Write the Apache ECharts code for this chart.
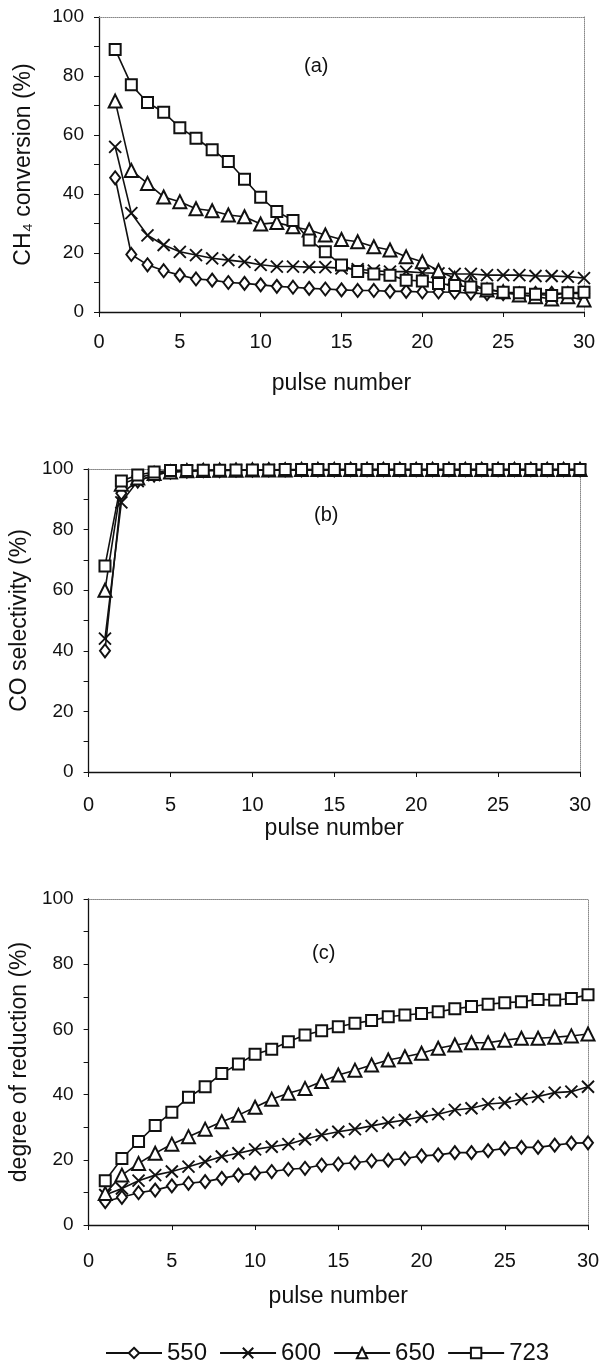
<!DOCTYPE html>
<html>
<head>
<meta charset="utf-8">
<script src="https://cdn.jsdelivr.net/npm/echarts@6/dist/echarts.min.js"></script>
<style>
  html, body { margin: 0; padding: 0; background: #fff; }
  #chart { width: 605px; height: 1365px; }
</style>
</head>
<body>
<div id="chart"></div>
<script>
// pulse numbers (x axis of every panel)
var pulses = [1, 2, 3, 4, 5, 6, 7, 8, 9, 10, 11, 12, 13, 14, 15,
              16, 17, 18, 19, 20, 21, 22, 23, 24, 25, 26, 27, 28, 29, 30];

// (a) CH4 conversion (%)
var conv550 = [45.5, 19.5, 16, 14, 12.5, 11.2, 10.8, 10, 9.7, 9.2, 8.7, 8.4, 8, 7.8, 7.5,
               7.3, 7.3, 7, 7, 6.8, 6.8, 6.7, 6.4, 6.2, 6.2, 6.2, 6.3, 6.3, 6.3, 6.3];
var conv600 = [56, 33.5, 26, 22.7, 20.4, 19.3, 18.2, 17.6, 17, 16, 15.4, 15.4, 15.2, 15.2, 14.8,
               14.5, 14, 13.7, 13.7, 13.3, 13.1, 12.9, 12.9, 12.5, 12.5, 12.5, 12.2, 12.2, 12, 11.5];
var conv650 = [71.5, 48, 43.6, 39, 37.4, 35, 34.3, 32.9, 32.3, 29.8, 30.3, 28.9, 27.8, 26.1, 24.6,
               23.8, 22.1, 21, 18.7, 17, 14, 11.4, 9.7, 7.5, 6.9, 5.8, 5.2, 4.4, 5.2, 4.1];
var conv723 = [89, 77, 71, 67.7, 62.5, 58.9, 55, 51, 45, 38.9, 34.1, 31, 24.4, 20.4, 15.9,
               13.7, 12.9, 12.5, 10.8, 10.5, 9.7, 9, 8.5, 7.8, 6.7, 6.5, 6, 5.6, 6.5, 6.7];

// (b) CO selectivity (%)
var sel550 = [40, 92, 96, 98, 99, 99.3, 99.5, 99.5, 99.6, 99.6, 99.7, 99.7, 99.7, 99.7, 99.7,
              99.8, 99.8, 99.8, 99.8, 99.8, 99.8, 99.8, 99.8, 99.8, 99.8, 99.8, 99.8, 99.8, 99.8, 99.8];
var sel600 = [44, 89, 96, 98, 99, 99.3, 99.5, 99.5, 99.6, 99.6, 99.7, 99.7, 99.7, 99.7, 99.7,
              99.8, 99.8, 99.8, 99.8, 99.8, 99.8, 99.8, 99.8, 99.8, 99.8, 99.8, 99.8, 99.8, 99.8, 99.8];
var sel650 = [60, 95, 97, 98.5, 99, 99.4, 99.5, 99.6, 99.6, 99.7, 99.7, 99.7, 99.8, 99.8, 99.8,
              99.8, 99.8, 99.8, 99.8, 99.8, 99.8, 99.8, 99.8, 99.8, 99.8, 99.8, 99.8, 99.8, 99.8, 99.8];
var sel723 = [68, 96, 98, 99, 99.5, 99.5, 99.6, 99.6, 99.7, 99.7, 99.7, 99.8, 99.8, 99.8, 99.8,
              99.8, 99.8, 99.8, 99.8, 99.8, 99.8, 99.8, 99.8, 99.8, 99.8, 99.8, 99.8, 99.8, 99.8, 99.8];

// (c) degree of reduction (%)
var red550 = [7.2, 8.5, 9.9, 10.7, 12, 12.8, 13.3, 14.3, 15.3, 15.9, 16.4, 17.1, 17.4, 18.4, 18.7,
              19.1, 19.7, 19.9, 20.4, 21.2, 21.5, 22.2, 22.2, 22.8, 23.5, 23.8, 23.8, 24.5, 25.1, 25.2];
var red600 = [9.2, 11.2, 13.6, 15.3, 16.4, 17.9, 19.4, 21, 22, 23.2, 24, 24.8, 26.3, 27.6, 28.6,
              29.4, 30.4, 31.4, 32.2, 33.2, 34, 35.3, 35.8, 37.1, 37.5, 38.6, 39.4, 40.6, 40.9, 42.4];
var red650 = [9.7, 15.3, 18.9, 22, 24.8, 27.1, 29.4, 31.7, 33.7, 36.1, 38.6, 40.4, 41.9, 44, 46,
              47.5, 49.1, 50.6, 51.6, 52.7, 54.2, 55.2, 55.9, 55.9, 56.7, 57.3, 57.3, 57.6, 58, 58.6];
var red723 = [13.6, 20.4, 25.6, 30.5, 34.6, 39.2, 42.4, 46.5, 49.4, 52.4, 53.9, 56.2, 58.3, 59.6, 60.8,
              61.9, 62.7, 63.9, 64.4, 64.9, 65.4, 66.3, 67, 67.7, 68.2, 68.5, 69.2, 69, 69.5, 70.6];

var temps = ['550', '600', '650', '723'];
var symbols = ['emptyDiamond', 'path://M0,0L10,10M10,0L0,10', 'emptyTriangle', 'emptyRect'];
var symbolSizes = [[10, 13], 12, 13, 11];

var FONT = '"Liberation Sans", Arial, sans-serif';

// 面板位置
var grids = [
  { left: 99, top: 17, width: 485, height: 295 },
  { left: 88, top: 469, width: 492, height: 303 },
  { left: 84, top: 899, width: 504, height: 326 }
];
var yNames = ['CH₄ conversion (%)', 'CO selectivity (%)', 'degree of reduction (%)'];
var yNameGaps = [64, 53, 47];
var xLabelMargins = [20, 23, 26];
var xNameGaps = [60, 45, 60];

function pairs(values) {
  return pulses.map(function (p, i) { return [p, values[i]]; });
}

var xAxes = [], yAxes = [], series = [];
grids.forEach(function (g, i) {
  xAxes.push({
    gridIndex: i, type: 'value', min: 0, max: 30, interval: 5,
    name: 'pulse number', nameLocation: 'middle', nameGap: xNameGaps[i],
    nameTextStyle: { fontFamily: FONT, fontSize: 23, color: '#111' },
    axisLine: { lineStyle: { color: '#111', width: 1.3 } },
    axisTick: { show: true, length: 5, lineStyle: { color: '#111' } },
    axisLabel: { fontFamily: FONT, fontSize: 20, color: '#111', margin: xLabelMargins[i] },
    splitLine: { show: false }
  });
  // top border (dotted)
  xAxes.push({
    gridIndex: i, type: 'value', min: 0, max: 30, position: 'top',
    axisLine: { onZero: false, lineStyle: { color: '#888', type: 'dotted', width: 1 } },
    axisTick: { show: false }, axisLabel: { show: false }, splitLine: { show: false }
  });
  yAxes.push({
    gridIndex: i, type: 'value', min: 0, max: 100, interval: 20,
    name: yNames[i], nameLocation: 'middle', nameGap: yNameGaps[i],
    nameTextStyle: { fontFamily: FONT, fontSize: 23, color: '#111' },
    axisLine: { show: true, lineStyle: { color: '#111', width: 1.3 } },
    axisTick: { show: true, length: 5, lineStyle: { color: '#111' } },
    minorTick: { show: true, splitNumber: 2, length: 5, lineStyle: { color: '#111' } },
    axisLabel: { fontFamily: FONT, fontSize: 19, color: '#111', margin: 15 },
    splitLine: { show: false }
  });
  // right border (dotted)
  yAxes.push({
    gridIndex: i, type: 'value', min: 0, max: 100, position: 'right',
    axisLine: { show: true, onZero: false, lineStyle: { color: '#888', type: 'dotted', width: 1 } },
    axisTick: { show: false }, axisLabel: { show: false }, splitLine: { show: false }
  });
});

var panels = [
  [conv550, conv600, conv650, conv723],
  [sel550, sel600, sel650, sel723],
  [red550, red600, red650, red723]
];
panels.forEach(function (sets, gi) {
  sets.forEach(function (values, k) {
    series.push({
      name: temps[k], type: 'line',
      xAxisIndex: gi * 2, yAxisIndex: gi * 2,
      data: pairs(values),
      symbol: symbols[k], symbolSize: symbolSizes[k],
      showAllSymbol: true,
      lineStyle: { color: '#111', width: 1.6 },
      itemStyle: { color: '#111', borderColor: '#111', borderWidth: 1.9 },
      emphasis: { disabled: true },
      animation: false
    });
  });
});

var chart = echarts.init(document.getElementById('chart'), null, { renderer: 'canvas' });
chart.setOption({
  backgroundColor: '#fff',
  animation: false,
  grid: grids,
  xAxis: xAxes,
  yAxis: yAxes,
  series: series,
  legend: {
    data: temps, left: 100, top: 1336,
    itemWidth: 56, itemHeight: 13, itemGap: 12,
    textStyle: { fontFamily: FONT, fontSize: 24, color: '#111' }
  },
  graphic: [
    { type: 'text', left: 304, top: 56, style: { text: '(a)', font: '20px ' + FONT, fill: '#111' } },
    { type: 'text', left: 314, top: 505, style: { text: '(b)', font: '20px ' + FONT, fill: '#111' } },
    { type: 'text', left: 312, top: 943, style: { text: '(c)', font: '20px ' + FONT, fill: '#111' } }
  ]
});
</script>
</body>
</html>
